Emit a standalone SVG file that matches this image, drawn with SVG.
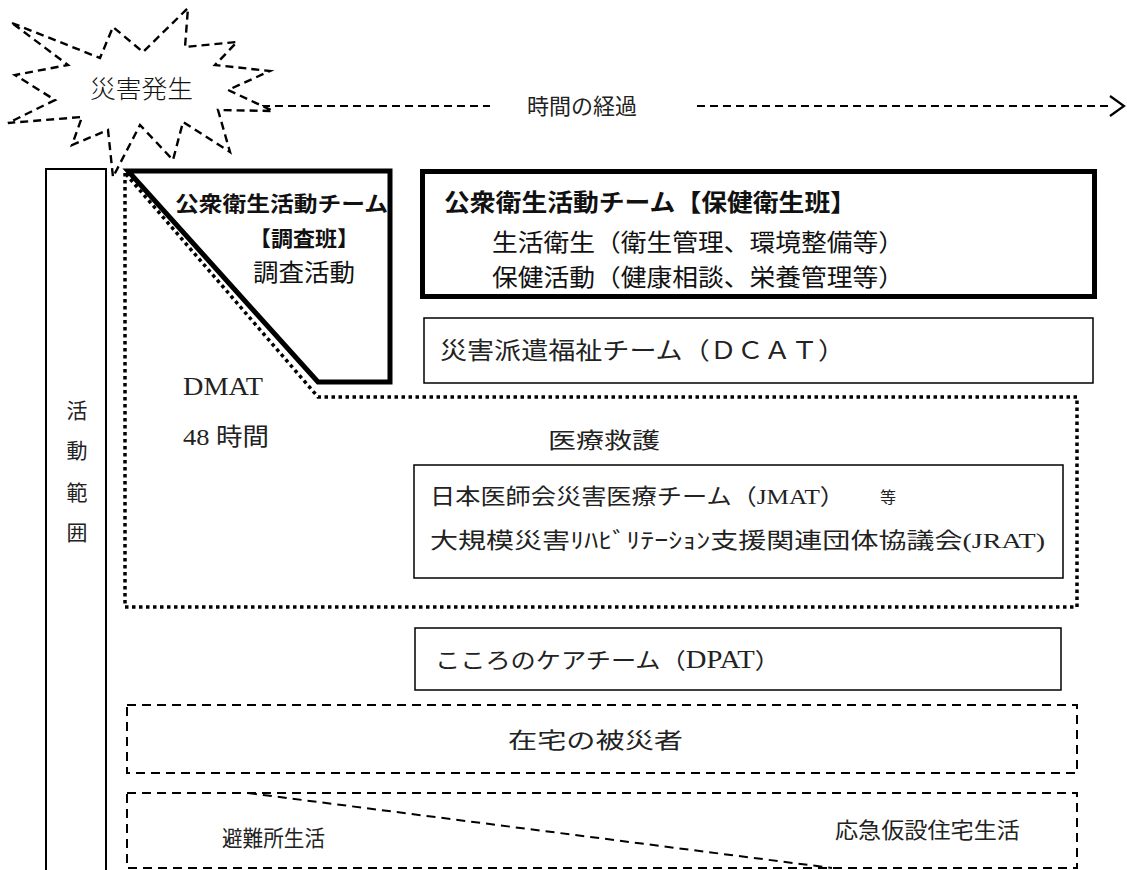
<svg xmlns="http://www.w3.org/2000/svg" width="1127" height="870" viewBox="0 0 1127 870">
<style>
.bg{fill:#fff}
.thin{fill:#fff;stroke:#000;stroke-width:1.5}
.thick{fill:none;stroke:#000;stroke-width:5;stroke-linejoin:miter}
.dot{fill:none;stroke:#000;stroke-width:3.5;stroke-dasharray:3.5 3.5}
.dash{fill:none;stroke:#000;stroke-width:2;stroke-dasharray:9 6}
.star{fill:#fff;stroke:#000;stroke-width:2.4;stroke-dasharray:8 5;stroke-linejoin:miter}
.arr{fill:none;stroke:#000;stroke-width:2.2;stroke-dasharray:8 5}
.g{font-family:"Noto Sans CJK JP","Liberation Sans",sans-serif;fill:#111}
.m{font-family:"Liberation Serif","Noto Sans CJK JP",serif;fill:#222}
.b{font-weight:bold}
</style>
<rect class="bg" x="0" y="0" width="1127" height="870"/>

<g id="connectors">
  <line class="arr" x1="262" y1="106" x2="490" y2="106"/>
  <line class="arr" x1="697" y1="106" x2="1112" y2="106"/>
  <polyline fill="none" stroke="#000" stroke-width="2.2" points="1110,96 1124,106 1110,116"/>
</g>

<g id="activity-range">
  <rect x="46" y="169" width="60" height="712" fill="#fff" stroke="#000" stroke-width="2"/>
  <text class="m" font-size="21" text-anchor="middle" x="77" y="418">活</text>
  <text class="m" font-size="21" text-anchor="middle" x="77" y="458">動</text>
  <text class="m" font-size="21" text-anchor="middle" x="77" y="500">範</text>
  <text class="m" font-size="21" text-anchor="middle" x="77" y="540">囲</text>
</g>

<g id="dmat-area">
  <polygon class="dot" points="125,173 125,607 1077,607 1077,397 318,397"/>
  <text class="m" font-size="26" x="183" y="395" textLength="80" lengthAdjust="spacingAndGlyphs">DMAT</text>
  <text class="m" font-size="24" x="183" y="445" textLength="86" lengthAdjust="spacingAndGlyphs">48 時間</text>
  <text class="m" font-size="22" x="548" y="448" textLength="112" lengthAdjust="spacingAndGlyphs">医療救護</text>
</g>

<g id="survey-team">
  <polygon fill="#fff" stroke="none" points="130,174 388,174 388,380 320,380"/>
  <polygon class="thick" points="128,171 390,171 390,382 318,382"/>
  <text class="g b" font-size="21" x="175" y="211" textLength="213" lengthAdjust="spacingAndGlyphs">公衆衛生活動チーム</text>
  <text class="g b" font-size="21" x="249" y="246" textLength="110" lengthAdjust="spacingAndGlyphs">【調査班】</text>
  <text class="g" font-size="24" x="253" y="281" textLength="102" lengthAdjust="spacingAndGlyphs">調査活動</text>
</g>

<g id="health-team">
  <rect class="thick" x="422.5" y="171.5" width="672" height="125" fill="#fff"/>
  <text class="g b" font-size="24" x="444" y="211" textLength="412" lengthAdjust="spacingAndGlyphs">公衆衛生活動チーム【保健衛生班】</text>
  <text class="g" font-size="24" x="492" y="251" textLength="412" lengthAdjust="spacingAndGlyphs">生活衛生（衛生管理、環境整備等）</text>
  <text class="g" font-size="24" x="492" y="286" textLength="412" lengthAdjust="spacingAndGlyphs">保健活動（健康相談、栄養管理等）</text>
</g>

<g id="dcat">
  <rect class="thin" x="424" y="318" width="669" height="65"/>
  <text class="m" font-size="24" x="440" y="359" textLength="405" lengthAdjust="spacingAndGlyphs">災害派遣福祉チーム（ＤＣＡＴ）</text>
</g>

<g id="jmat">
  <rect class="thin" x="414" y="465" width="649" height="113"/>
  <text class="m" font-size="22" x="430" y="504" textLength="415" lengthAdjust="spacingAndGlyphs">日本医師会災害医療チーム（JMAT）</text>
  <text class="m" font-size="16" x="880" y="503">等</text>
  <text class="m" font-size="22" x="430" y="548" textLength="615" lengthAdjust="spacingAndGlyphs">大規模災害ﾘﾊﾋﾞﾘﾃｰｼｮﾝ支援関連団体協議会(JRAT)</text>
</g>

<g id="dpat">
  <rect class="thin" x="415" y="628" width="646" height="62"/>
  <text class="m" font-size="22" x="435" y="668" textLength="345" lengthAdjust="spacingAndGlyphs">こころのケアチーム（<tspan font-size="25">DPAT</tspan>）</text>
</g>

<g id="home-victims">
  <rect class="dash" x="127" y="705" width="950" height="68"/>
  <text class="m" font-size="22" x="508" y="748" textLength="175" lengthAdjust="spacingAndGlyphs">在宅の被災者</text>
</g>

<g id="shelter-life">
  <rect class="dash" x="127" y="793" width="950" height="75"/>
  <line class="dash" x1="248" y1="793" x2="832" y2="868"/>
  <text class="m" font-size="22" x="222" y="846" textLength="103" lengthAdjust="spacingAndGlyphs">避難所生活</text>
  <text class="m" font-size="22" x="835" y="838" textLength="185" lengthAdjust="spacingAndGlyphs">応急仮設住宅生活</text>
</g>

<g id="disaster">
  <polygon class="star" points="12,23 100,58 113,27 143,52 188,8 185,47 237,42 215,65 270,71 228,90 273,111 218,110 230,152 183,122 173,160 140,125 113,177 108,130 72,145 82,117 8,123 55,100 15,75 68,65"/>
  <text class="g" font-size="25" font-weight="300" x="90" y="98" textLength="103" lengthAdjust="spacingAndGlyphs" fill="#333">災害発生</text>
</g>

<g id="time-label">
  <text class="m" font-size="22" x="527" y="114" textLength="110" lengthAdjust="spacingAndGlyphs">時間の経過</text>
</g>
</svg>
